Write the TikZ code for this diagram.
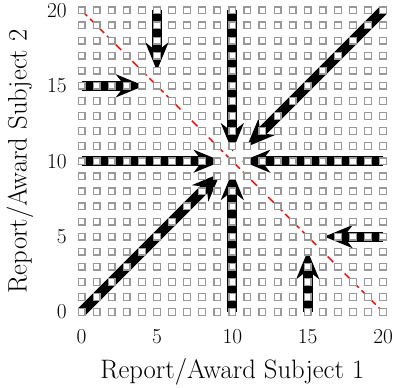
\documentclass[tikz,border=0pt]{standalone}
\usetikzlibrary{arrows.meta}
\begin{document}
\begin{tikzpicture}[x=11.31pt,y=11.31pt,
  flow/.style={line width=7.5pt, -{Stealth[length=21pt,width=17pt,inset=6.5pt]}},
  sq/.style={draw=black!40, fill=white, line width=1pt, minimum size=5pt, inner sep=0pt, rectangle, outer sep=0pt},
  ticklab/.style={font=\fontsize{16}{19}\selectfont, inner sep=0pt},
  axlab/.style={font=\fontsize{20}{24}\selectfont, inner sep=0pt},
  diag/.style={red, line width=1pt, dash pattern=on 6pt off 3pt}]
\useasboundingbox (-5.405,-4.973) rectangle (20.72,20.69);
% grid coordinates
\foreach \i in {0,...,20}{
  \foreach \j in {0,...,20}{
    \coordinate (c-\i-\j) at (\i,\j);
  }
}
% arrow tips
\coordinate (t1) at (4.15,15);
\coordinate (t2) at (5,16);
\coordinate (t3) at (10,10.65);
\coordinate (t4) at (10.95,10.95);
\coordinate (t5) at (9.3,10);
\coordinate (t6) at (10.65,10);
\coordinate (t7) at (9.2,9.2);
\coordinate (t8) at (10,9.3);
\coordinate (t9) at (16.1,5);
\coordinate (t10) at (15,4.05);
% red diagonal
\draw[diag] (c-0-20) -- (c-20-0);
% arrows
\draw[flow] (c-0-15) -- (t1);
\draw[flow] (c-5-20) -- (t2);
\draw[flow] (c-10-20) -- (t3);
\draw[flow] (c-20-20) -- (t4);
\draw[flow] (c-0-10) -- (t5);
\draw[flow] (c-20-10) -- (t6);
\draw[flow] (c-0-0) -- (t7);
\draw[flow] (c-10-0) -- (t8);
\draw[flow] (c-20-5) -- (t9);
\draw[flow] (c-15-0) -- (t10);
% square marks
\foreach \i in {0,...,20}{
  \foreach \j in {0,...,20}{
    \node[sq] (p-\i-\j) at (c-\i-\j) {};
  }
}
% tick labels
\foreach \v in {0,5,10,15,20}{
  \node[ticklab] (xt-\v) at (\v,-1.66) {\v};
  \node[ticklab, anchor=east] (yt-\v) at (-0.96,\v) {\v};
}
\node[axlab] (xlab) at (10,-3.98) {Report/Award Subject 1};
\node[axlab, rotate=90] (ylab) at (-4.08,10) {Report/Award Subject 2};
\end{tikzpicture}
\end{document}
